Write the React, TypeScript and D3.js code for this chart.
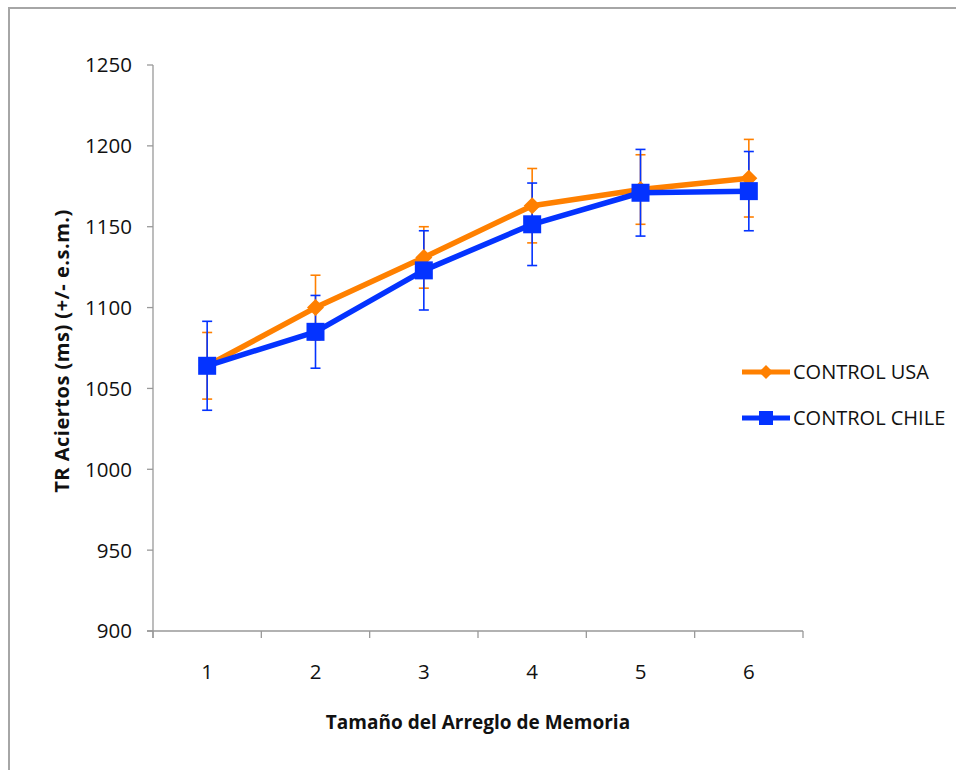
import React from "react";
import * as d3 from "d3";

const categories = ["1", "2", "3", "4", "5", "6"];
const usaValues = [1064, 1100, 1131, 1163, 1173, 1180];
const usaErrors = [20.6, 20, 19, 23, 21.5, 24];
const chileValues = [1064, 1085, 1123, 1151.5, 1171, 1172];
const chileErrors = [27.5, 22.5, 24.5, 25.5, 26.8, 24.5];
const yTicks = [900, 950, 1000, 1050, 1100, 1150, 1200, 1250];
const seriesNames = ["CONTROL USA", "CONTROL CHILE"];

const ORANGE = "#FF8000";
const BLUE = "#0433FF";
const AXIS = "#999999";
const FONT = "'Open Sans', 'Liberation Sans', sans-serif";

export default function App() {
  const x = d3.scaleBand<string>().domain(categories).range([153, 803]);
  const y = d3.scaleLinear().domain([900, 1250]).range([631, 65]);
  const cx = (c: string) => (x(c) as number) + x.bandwidth() / 2;
  const line = d3
    .line<number>()
    .x((_, i) => cx(categories[i]))
    .y((d) => y(d));

  const diamond = (px: number, py: number, r: number) =>
    `M${px},${py - r}L${px + r},${py}L${px},${py + r}L${px - r},${py}Z`;

  const errBars = (vals: number[], errs: number[], color: string) =>
    vals.map((v, i) => {
      const px = cx(categories[i]);
      const top = y(v + errs[i]);
      const bot = y(v - errs[i]);
      return (
        <g key={i} stroke={color} strokeWidth={1.6}>
          <line x1={px} x2={px} y1={top} y2={bot} />
          <line x1={px - 5} x2={px + 5} y1={top} y2={top} />
          <line x1={px - 5} x2={px + 5} y1={bot} y2={bot} />
        </g>
      );
    });

  const boundaries = [...categories.map((c) => x(c) as number), 803];

  return (
    <svg
      width={956}
      height={770}
      style={{ position: "absolute", left: 0, top: 0, background: "#fff" }}
      fontFamily={FONT}
    >
      <rect x={9} y={8} width={980} height={800} fill="#fff" stroke="#A6A6A6" strokeWidth={2} />

      {/* Y axis */}
      <line x1={153} x2={153} y1={65} y2={638} stroke={AXIS} strokeWidth={1.3} />
      {yTicks.map((t) => (
        <g key={t}>
          <line x1={147} x2={153} y1={y(t)} y2={y(t)} stroke={AXIS} strokeWidth={1.3} />
          <text x={132} y={y(t)} dy="0.36em" textAnchor="end" fontSize={20.5} fill="#111">
            {t}
          </text>
        </g>
      ))}

      {/* X axis */}
      <line x1={147} x2={803} y1={631} y2={631} stroke={AXIS} strokeWidth={1.3} />
      {boundaries.map((b, i) => (
        <line key={i} x1={b} x2={b} y1={631} y2={638} stroke={AXIS} strokeWidth={1.3} />
      ))}
      {categories.map((c) => (
        <text key={c} x={cx(c)} y={672} dy="0.36em" textAnchor="middle" fontSize={20.5} fill="#111">
          {c}
        </text>
      ))}

      {/* Titles */}
      <text x={478} y={722} dy="0.35em" textAnchor="middle" fontSize={19} fontWeight="bold" fill="#111">
        Tamaño del Arreglo de Memoria
      </text>
      <text
        transform={`translate(62,351) rotate(-90)`}
        dy="0.35em"
        textAnchor="middle"
        fontSize={20}
        letterSpacing={0.5}
        fontWeight="bold"
        fill="#111"
      >
        TR Aciertos (ms) (+/- e.s.m.)
      </text>

      {/* Error bars */}
      {errBars(usaValues, usaErrors, ORANGE)}
      {errBars(chileValues, chileErrors, BLUE)}

      {/* USA series */}
      <path d={line(usaValues) || ""} fill="none" stroke={ORANGE} strokeWidth={5.5} strokeLinejoin="round" />
      {usaValues.map((v, i) => (
        <path key={i} d={diamond(cx(categories[i]), y(v), 8.5)} fill={ORANGE} />
      ))}

      {/* Chile series */}
      <path d={line(chileValues) || ""} fill="none" stroke={BLUE} strokeWidth={5.5} strokeLinejoin="round" />
      {chileValues.map((v, i) => (
        <rect key={i} x={cx(categories[i]) - 9} y={y(v) - 9} width={18} height={18} fill={BLUE} />
      ))}

      {/* Legend */}
      <g>
        <line x1={742} x2={790} y1={372} y2={372} stroke={ORANGE} strokeWidth={5} />
        <path d={diamond(766, 372, 7)} fill={ORANGE} />
        <text x={793} y={372} dy="0.36em" fontSize={20} fill="#111">
          {seriesNames[0]}
        </text>
        <line x1={742} x2={790} y1={418} y2={418} stroke={BLUE} strokeWidth={5} />
        <rect x={759} y={411} width={14} height={14} fill={BLUE} />
        <text x={793} y={418} dy="0.36em" fontSize={20} fill="#111">
          {seriesNames[1]}
        </text>
      </g>
    </svg>
  );
}
